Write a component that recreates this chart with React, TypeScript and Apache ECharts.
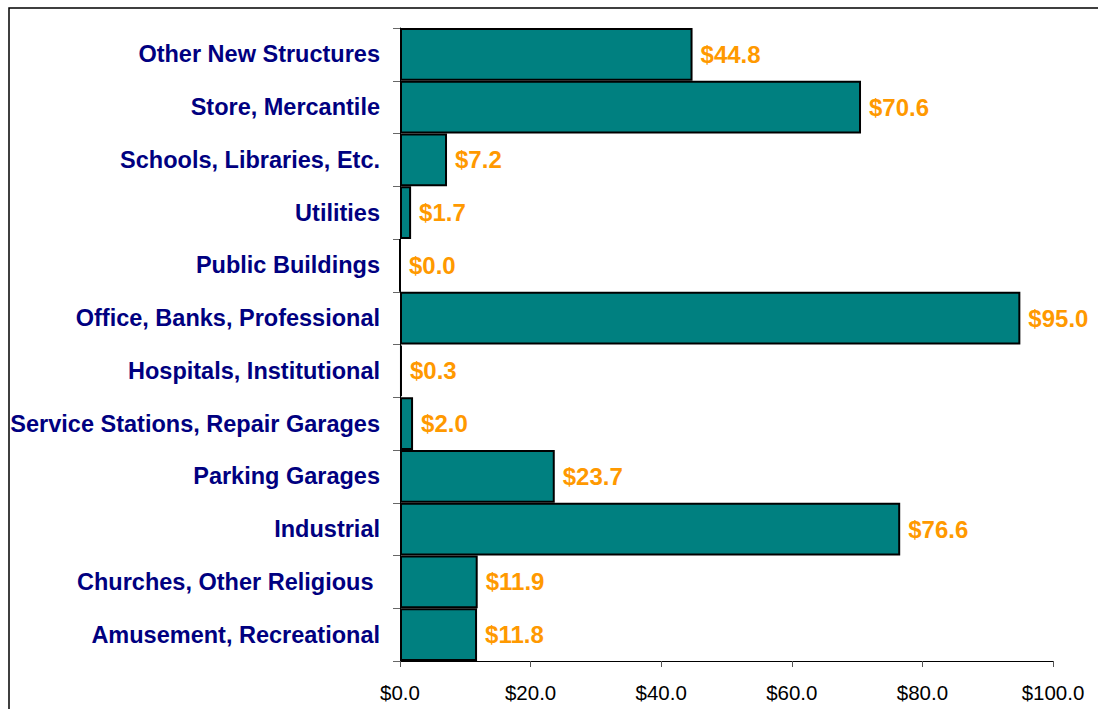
import React, { useEffect, useRef } from "react";
import * as echarts from "echarts";

const categories = [
  "Amusement, Recreational",
  "Churches, Other Religious ",
  "Industrial",
  "Parking Garages",
  "Service Stations, Repair Garages",
  "Hospitals, Institutional",
  "Office, Banks, Professional",
  "Public Buildings",
  "Utilities",
  "Schools, Libraries, Etc.",
  "Store, Mercantile",
  "Other New Structures",
];

const values = [11.8, 11.9, 76.6, 23.7, 2.0, 0.3, 95.0, 0.0, 1.7, 7.2, 70.6, 44.8];

const FONT = "'Liberation Sans', Arial, sans-serif";

export default function App() {
  const ref = useRef<HTMLDivElement>(null);
  useEffect(() => {
    document.body.style.margin = "0";
    document.body.style.overflow = "hidden";
    const chart = echarts.init(ref.current!, null, { renderer: "svg" });
    chart.setOption({
      animation: false,
      backgroundColor: "#ffffff",
      graphic: [
        {
          type: "rect",
          shape: { x: 9, y: 8, width: 2000, height: 2000 },
          style: { fill: "none", stroke: "#000", lineWidth: 1.5 },
          silent: true,
        },
      ],
      grid: { left: 400, right: 45, top: 28, bottom: 48, containLabel: false },
      xAxis: {
        type: "value",
        min: 0,
        max: 100,
        interval: 20,
        axisLine: { show: true, lineStyle: { color: "#000", width: 1 } },
        axisTick: { show: true, length: 6, lineStyle: { color: "#555" } },
        splitLine: { show: false },
        axisLabel: {
          margin: 21,
          color: "#000",
          fontFamily: FONT,
          fontSize: 20.5,
          formatter: (v: number) => "$" + v.toFixed(1),
        },
      },
      yAxis: {
        type: "category",
        data: categories,
        axisLine: { show: true, lineStyle: { color: "#000", width: 1 } },
        axisTick: { show: true, length: 7, lineStyle: { color: "#666" } },
        axisLabel: {
          margin: 20,
          color: "#000080",
          fontFamily: FONT,
          fontWeight: "bold",
          fontSize: 23.5,
        },
      },
      series: [
        {
          type: "bar",
          data: values,
          barCategoryGap: 0,
          itemStyle: { color: "#008080", borderColor: "#000", borderWidth: 2 },
          label: {
            show: true,
            position: "right",
            distance: 8,
            color: "#FF9900",
            fontFamily: FONT,
            fontWeight: "bold",
            fontSize: 24,
            formatter: (p: any) => "$" + Number(p.value).toFixed(1),
          },
        },
      ],
    });
    return () => chart.dispose();
  }, []);
  return <div ref={ref} style={{ width: 1098, height: 709 }} />;
}
